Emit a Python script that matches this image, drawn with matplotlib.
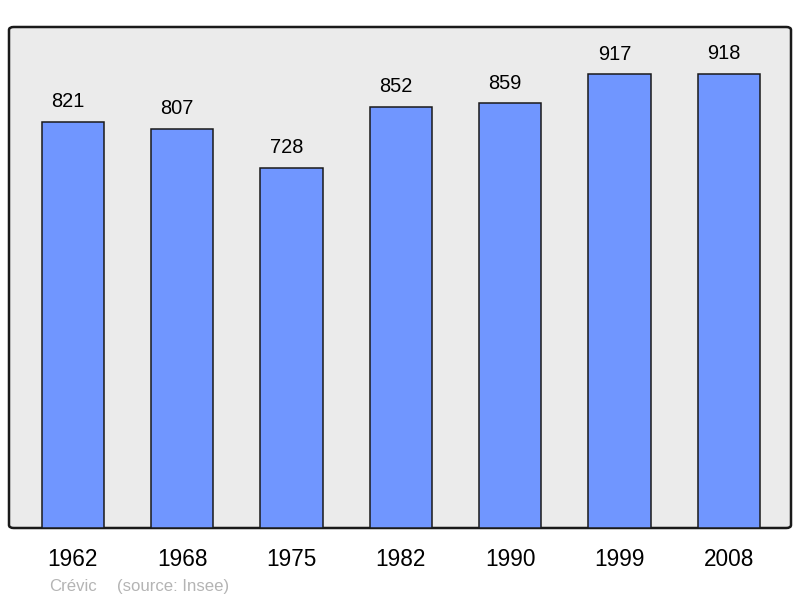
import matplotlib.pyplot as plt
from matplotlib.patches import FancyBboxPatch

plt.rcParams['font.family'] = ['Liberation Sans', 'DejaVu Sans']

###########################################################
# data

years = ['1962', '1968', '1975', '1982', '1990', '1999', '2008']
population = [821, 807, 728, 852, 859, 917, 918]
town = 'Crévic'
source = '(source: Insee)'

###########################################################
# plot

fig = plt.figure(figsize=(8, 5.98), dpi=100)
ax = fig.add_axes([9/800, 70/598, 782/800, 501/598])
ax.set_facecolor('none')

# background box with rounded corners
box = FancyBboxPatch((0, 0), 1, 1, boxstyle='round,pad=0,rounding_size=0.006',
                     transform=ax.transAxes, facecolor='#ebebeb', edgecolor='#1a1a1a',
                     linewidth=1.8, zorder=0, clip_on=False)
ax.add_patch(box)

xpos = list(range(len(years)))
ax.bar(xpos, population, width=0.57, color='#7096ff', edgecolor='#1a1a1a',
       linewidth=1.1, zorder=2)

# value labels, sit a bit left of the bar centre like the original
for x, v in zip(xpos, population):
    ax.annotate(str(v), (x, v), xytext=(-3.6, 10.5), textcoords='offset points',
                ha='center', va='baseline', fontsize=14.4)

ax.set_xlim(-0.585, 6.57)
ax.set_ylim(0, 1013)
ax.set_xticks(xpos)
ax.set_xticklabels(years, fontsize=16.3)
ax.tick_params(axis='x', length=0, pad=14.5)
ax.set_yticks([])
for s in ax.spines.values():
    s.set_visible(False)

fig.text(49/800, 1 - 591/598, town, color='#b4b4b4', fontsize=12.1, va='baseline')
fig.text(117/800, 1 - 591/598, source, color='#b4b4b4', fontsize=12.1, va='baseline')

plt.savefig('out.png', dpi=100)
